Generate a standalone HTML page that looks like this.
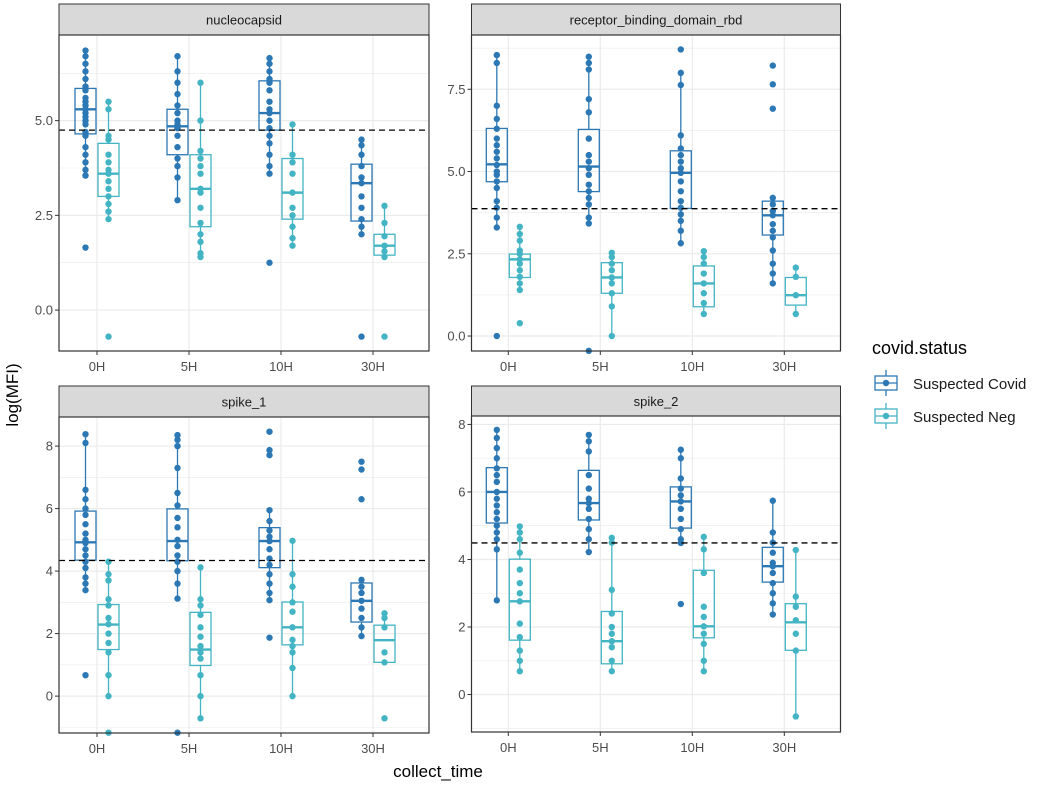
<!DOCTYPE html>
<html><head><meta charset="utf-8"><style>
body{margin:0;background:#fff}
svg{display:block;font-family:"Liberation Sans",Arial,sans-serif}
</style></head><body>
<svg id="chart" width="1040" height="791" viewBox="0 0 1040 791">
<text x="18" y="395" transform="rotate(-90 18 395)" text-anchor="middle" font-size="17" fill="#000">log(MFI)</text>
<text x="438" y="777" text-anchor="middle" font-size="17" fill="#000">collect_time</text>
<g>
<text x="872" y="354" font-size="18" fill="#000">covid.status</text>
<g>
<line x1="886" y1="370" x2="886" y2="396" stroke="#2c78b4" stroke-width="1.3"/>
<rect x="875" y="376" width="22" height="14" fill="#fff" stroke="#2c78b4" stroke-width="1.3"/>
<line x1="875" y1="383" x2="897" y2="383" stroke="#2c78b4" stroke-width="1.3"/>
<circle cx="886" cy="383" r="3.2" fill="#2c78b4"/>
<text x="913" y="389" font-size="15" fill="#1a1a1a">Suspected Covid</text></g>
<g>
<line x1="886" y1="403" x2="886" y2="429" stroke="#43b4c3" stroke-width="1.3"/>
<rect x="875" y="409" width="22" height="14" fill="#fff" stroke="#43b4c3" stroke-width="1.3"/>
<line x1="875" y1="416" x2="897" y2="416" stroke="#43b4c3" stroke-width="1.3"/>
<circle cx="886" cy="416" r="3.2" fill="#43b4c3"/>
<text x="913" y="422" font-size="15" fill="#1a1a1a">Suspected Neg</text></g>
</g>
</svg>
<script>
const categories = ["0H","5H","10H","30H"];
const panelTitles = ["nucleocapsid","receptor_binding_domain_rbd","spike_1","spike_2"];
const thresholds = [4.75, 3.87, 4.34, 4.49];
const tickLabelsNuc = ["0.0","2.5","5.0"];
const tickLabelsRbd = ["0.0","2.5","5.0","7.5"];
const tickLabelsS1 = ["0","2","4","6","8"];
const tickLabelsS2 = ["0","2","4","6","8"];
// box stats: [q1, median, q3, whiskerLow, whiskerHigh]
const nucCovidBox = [[4.65,5.3,5.85,3.55,6.85],[4.1,4.85,5.3,2.9,6.7],[4.75,5.2,6.05,3.55,6.65],[2.35,3.35,3.85,2.0,4.5]];
const nucNegBox = [[3.0,3.6,4.4,2.4,5.5],[2.2,3.2,4.1,1.4,6.0],[2.4,3.1,4.0,1.7,4.9],[1.45,1.7,2.0,1.4,2.75]];
const rbdCovidBox = [[4.69,5.22,6.31,3.3,8.54],[4.39,5.15,6.28,3.42,8.49],[3.88,4.96,5.63,2.82,8.0],[3.07,3.67,4.1,1.6,4.2]];
const rbdNegBox = [[1.78,2.33,2.49,1.4,3.32],[1.3,1.78,2.23,0.0,2.53],[0.89,1.6,2.13,0.67,2.58],[0.94,1.24,1.78,0.67,2.08]];
const s1CovidBox = [[4.35,4.92,5.92,3.39,8.38],[4.33,4.96,5.99,3.12,8.35],[4.11,4.96,5.39,3.07,5.95],[2.37,3.05,3.62,1.92,3.72]];
const s1NegBox = [[1.49,2.29,2.93,0.0,4.3],[0.98,1.49,2.68,-0.71,4.12],[1.64,2.2,3.01,0.0,4.97],[1.08,1.79,2.27,1.08,2.65]];
const s2CovidBox = [[5.08,6.0,6.72,2.79,7.84],[5.17,5.67,6.64,4.22,7.69],[4.93,5.72,6.15,4.49,7.25],[3.33,3.8,4.36,2.37,5.74]];
const s2NegBox = [[1.61,2.76,4.01,0.69,4.98],[0.91,1.58,2.46,0.69,4.64],[1.68,2.02,3.68,0.69,4.67],[1.31,2.14,2.69,-0.65,4.28]];
// points per time group
const nucCovidPts = [[6.85,6.7,6.5,6.3,6.1,5.9,5.8,5.6,5.5,5.4,5.3,5.2,5.1,5.0,4.9,4.7,4.6,4.3,4.1,3.9,3.7,3.55,1.65],[6.7,6.3,6.0,5.7,5.4,5.2,5.0,4.9,4.8,4.6,4.3,4.0,3.8,3.5,2.9],[6.65,6.5,6.3,6.1,6.0,5.8,5.5,5.3,5.2,5.0,4.8,4.6,4.4,4.1,3.8,3.6,1.25],[4.5,4.35,4.1,3.8,3.5,3.35,3.0,2.7,2.4,2.2,2.0,-0.7]];
const nucNegPts = [[5.5,5.3,4.6,4.5,4.1,3.9,3.7,3.6,3.4,3.2,3.0,2.8,2.6,2.4,-0.7],[6.0,5.0,4.2,4.0,3.8,3.6,3.2,3.1,2.7,2.3,2.0,1.8,1.5,1.4],[4.9,4.1,3.9,3.6,3.1,2.7,2.5,2.2,1.9,1.7],[2.75,2.3,1.95,1.7,1.55,1.4,-0.7]];
const rbdCovidPts = [[8.54,8.3,7.0,6.6,6.3,6.0,5.8,5.6,5.4,5.2,5.0,4.9,4.7,4.5,4.1,3.9,3.6,3.3,0.0],[8.49,8.3,8.1,7.2,6.8,6.0,5.5,5.3,5.1,4.9,4.6,4.4,4.2,4.0,3.6,3.42,-0.45],[8.71,8.0,7.63,6.1,5.7,5.5,5.3,5.1,4.96,4.7,4.4,4.1,3.9,3.7,3.5,3.2,2.82],[8.22,7.65,6.91,4.2,4.0,3.8,3.67,3.4,3.2,3.0,2.6,2.2,1.9,1.6]];
const rbdNegPts = [[3.32,3.1,2.9,2.6,2.5,2.33,2.2,2.0,1.8,1.6,1.4,0.39],[2.53,2.4,2.2,2.0,1.78,1.6,1.3,0.9,0.0],[2.58,2.4,2.2,1.9,1.6,1.3,1.0,0.67],[2.08,1.8,1.24,0.67]];
const s1CovidPts = [[8.38,8.1,6.6,6.3,6.0,5.8,5.5,5.2,5.0,4.9,4.7,4.5,4.3,4.1,3.8,3.6,3.39,0.67],[8.35,8.2,8.0,7.3,6.5,6.1,5.7,5.4,5.0,4.8,4.5,4.3,4.0,3.6,3.12,-1.17],[8.46,7.87,7.71,5.95,5.6,5.3,5.1,4.96,4.7,4.4,4.2,3.9,3.6,3.3,3.07,1.87],[7.5,7.25,6.3,3.72,3.5,3.3,3.05,2.8,2.5,2.2,1.92]];
const s1NegPts = [[4.3,3.9,3.7,3.1,2.9,2.5,2.3,2.0,1.7,1.4,0.67,0.0,-1.17],[4.12,3.1,2.9,2.6,2.2,1.9,1.6,1.4,1.2,0.67,0.0,-0.71],[4.97,3.9,3.5,3.0,2.7,2.2,1.8,1.6,1.4,0.9,0.0],[2.65,2.5,2.2,1.4,1.08,-0.71]];
const s2CovidPts = [[7.84,7.6,7.3,7.0,6.7,6.5,6.3,6.0,5.8,5.6,5.4,5.2,5.0,4.8,4.6,4.3,2.79],[7.69,7.5,7.2,6.5,6.1,5.8,5.67,5.5,5.2,4.9,4.6,4.22],[7.25,7.0,6.4,6.1,5.9,5.72,5.5,5.2,4.9,4.6,4.49,2.68],[5.74,4.8,4.5,4.2,3.9,3.8,3.6,3.3,3.0,2.7,2.37]];
const s2NegPts = [[4.98,4.8,4.6,4.2,3.7,3.3,3.0,2.76,2.1,1.7,1.3,1.0,0.69],[4.64,4.5,3.1,2.4,2.0,1.8,1.58,1.4,1.0,0.69],[4.67,4.3,3.6,2.6,2.3,2.02,1.8,1.5,1.0,0.69],[4.28,2.9,2.6,2.2,1.8,1.3,-0.65]];

const COVID="#2c78b4", NEG="#43b4c3";
const NS="http://www.w3.org/2000/svg";
const svg=document.getElementById('chart');
function mk(tag,attrs,parent){const e=document.createElementNS(NS,tag);for(const k in attrs)e.setAttribute(k,attrs[k]);(parent||svg).appendChild(e);return e;}

const layouts=[
 {x0:59,x1:429,y0:35,y1:351,st:4,ymin:-1.08,ymax:7.26,step:2.5,ticks:tickLabelsNuc,cx0:97,cdx:92,dodge:11.5,bw:21},
 {x0:471.5,x1:840.5,y0:35,y1:351,st:4,ymin:-0.455,ymax:9.15,step:2.5,ticks:tickLabelsRbd,cx0:508.3,cdx:92,dodge:11.5,bw:21},
 {x0:59,x1:429,y0:417,y1:733,st:386,ymin:-1.18,ymax:8.93,step:2,ticks:tickLabelsS1,cx0:97,cdx:92,dodge:11.5,bw:21},
 {x0:471.5,x1:840.5,y0:416,y1:732,st:386,ymin:-1.11,ymax:8.25,step:2,ticks:tickLabelsS2,cx0:508.3,cdx:92,dodge:11.5,bw:21}
];
const covidBoxes=[nucCovidBox,rbdCovidBox,s1CovidBox,s2CovidBox];
const negBoxes=[nucNegBox,rbdNegBox,s1NegBox,s2NegBox];
const covidPts=[nucCovidPts,rbdCovidPts,s1CovidPts,s2CovidPts];
const negPts=[nucNegPts,rbdNegPts,s1NegPts,s2NegPts];

layouts.forEach((L,pi)=>{
 const g=mk('g',{});
 
 
 const y=v=>L.y1-(v-L.ymin)/(L.ymax-L.ymin)*(L.y1-L.y0);
 const x=i=>L.cx0+i*L.cdx;
 const s=mk('rect',{x:L.x0,y:L.st,width:L.x1-L.x0,height:L.y0-L.st,fill:'#d9d9d9',stroke:'#333','stroke-width':1},g);
 
 
 const st=mk('text',{x:(L.x0+L.x1)/2,y:L.st+(L.y0-L.st)/2+5,'text-anchor':'middle','font-size':13,fill:'#1a1a1a'},g);
 st.textContent=panelTitles[pi];
 
 
 mk('rect',{x:L.x0,y:L.y0,width:L.x1-L.x0,height:L.y1-L.y0,fill:'#fff'},g);
 for(let k=-2;k<12;k++){
  const v=k*L.step/2; if(v<L.ymin||v>L.ymax) continue;
  mk('line',{x1:L.x0,x2:L.x1,y1:y(v),y2:y(v),stroke:'#ebebeb','stroke-width':k%2===0?1.2:0.6},g);
 }
 categories.forEach((c,i)=>mk('line',{x1:x(i),x2:x(i),y1:L.y0,y2:L.y1,stroke:'#ebebeb','stroke-width':1.2},g));
 L.ticks.forEach((t,k)=>{
  const v=k*L.step, yy=y(v);
  mk('line',{x1:L.x0-4,x2:L.x0,y1:yy,y2:yy,stroke:'#333'},g);
  const tt=mk('text',{x:L.x0-6,y:yy+4.5,'text-anchor':'end','font-size':13,fill:'#4d4d4d'},g);
  tt.textContent=t;
  
  
 });
 categories.forEach((c,i)=>{
  mk('line',{x1:x(i),x2:x(i),y1:L.y1,y2:L.y1+4,stroke:'#333'},g);
  const tt=mk('text',{x:x(i),y:L.y1+20,'text-anchor':'middle','font-size':13,fill:'#4d4d4d'},g);
  tt.textContent=c;
  
  
 });
 [[covidBoxes[pi],covidPts[pi],COVID,-1,'covid'],[negBoxes[pi],negPts[pi],NEG,1,'neg']].forEach(([boxes,pts,col,sgn,nm])=>{
  boxes.forEach((b,i)=>{
   const cx=x(i)+sgn*L.dodge, hw=L.bw/2;
   const bg=mk('g',{},g);
   
   
   mk('line',{x1:cx,x2:cx,y1:y(b[4]),y2:y(b[2]),stroke:col,'stroke-width':1.3},bg);
   mk('line',{x1:cx,x2:cx,y1:y(b[0]),y2:y(b[3]),stroke:col,'stroke-width':1.3},bg);
   mk('rect',{x:cx-hw,y:y(b[2]),width:L.bw,height:y(b[0])-y(b[2]),fill:'none',stroke:col,'stroke-width':1.3},bg);
   mk('line',{x1:cx-hw,x2:cx+hw,y1:y(b[1]),y2:y(b[1]),stroke:col,'stroke-width':2.4},bg);
   pts[i].forEach(v=>{
    const p=mk('circle',{cx:cx,cy:y(v),r:3.2,fill:col},bg);
    
    
   });
  });
 });
 const th=mk('line',{x1:L.x0,x2:L.x1,y1:y(thresholds[pi]),y2:y(thresholds[pi]),stroke:'#000','stroke-width':1.3,'stroke-dasharray':'6,4'},g);
 
 
 mk('rect',{x:L.x0,y:L.y0,width:L.x1-L.x0,height:L.y1-L.y0,fill:'none',stroke:'#333','stroke-width':1.2},g);
});
</script>
</body></html>
